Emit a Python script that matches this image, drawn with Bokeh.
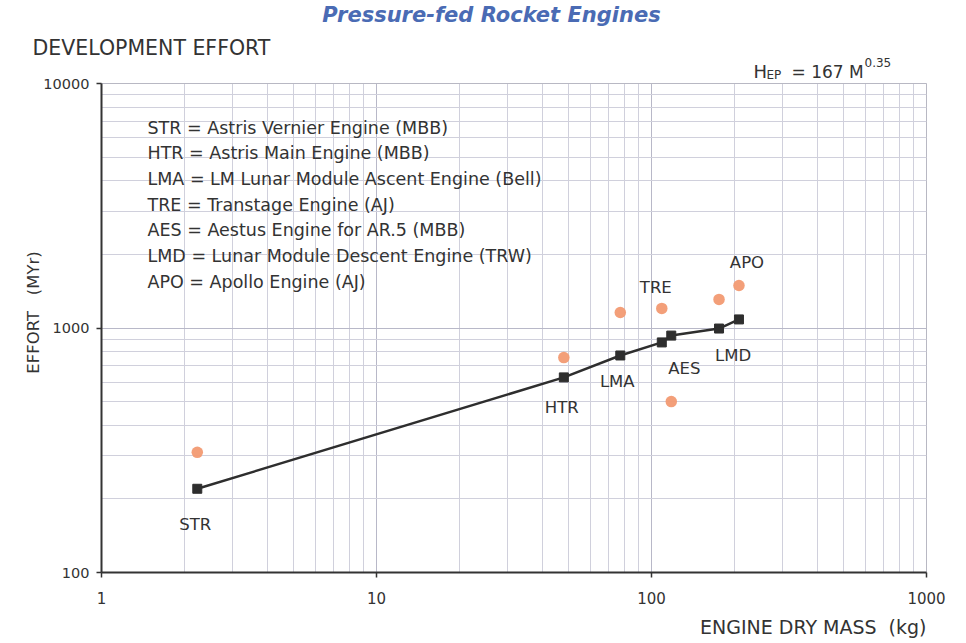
import math
from bokeh.plotting import figure
from bokeh.models import (Range1d, FixedTicker, Label, ColumnDataSource, PrintfTickFormatter,
                          BoxAnnotation, Grid)
from bokeh.core.properties import value
from bokeh.embed import file_html
from bokeh.resources import INLINE

# ---- data ----
codes = ["STR", "HTR", "LMA", "TRE", "AES", "LMD", "APO"]
mass_kg = [2.23, 48, 77, 109, 118, 176, 208]
effort_actual = [310, 757, 1157, 1203, 500, 1309, 1493]
effort_model = [220, 628, 772, 873, 931, 995, 1084]
legend_lines = [
    "STR = Astris Vernier Engine (MBB)",
    "HTR = Astris Main Engine (MBB)",
    "LMA = LM Lunar Module Ascent Engine (Bell)",
    "TRE = Transtage Engine (AJ)",
    "AES = Aestus Engine for AR.5 (MBB)",
    "LMD = Lunar Module Descent Engine (TRW)",
    "APO = Apollo Engine (AJ)",
]
x_ticks = [1, 10, 100, 1000]
y_ticks = [100, 1000, 10000]
NB = "\u00a0"

# ---- layout ----
label_dx = [-2, -2, -3, -6, 13, 14, 8]     # pixel offsets of code labels from model point
label_dy = [36, 30, 26, -55, 33, 27, -57]
W, H = 960, 640
PX_L, PX_R, PY_T, PY_B = 101, 926, 83, 572   # where the chart's log box sits on the canvas
X0, X1 = x_ticks[0], x_ticks[-1]
Y0, Y1 = y_ticks[0], y_ticks[-1]
dec_x = (PX_R - PX_L) / math.log10(X1 / X0)
dec_y = (PY_B - PY_T) / math.log10(Y1 / Y0)
x_range = Range1d(X0 * 10 ** (-PX_L / dec_x), X1 * 10 ** ((W - PX_R) / dec_x))
y_range = Range1d(Y0 * 10 ** (-(H - PY_B) / dec_y), Y1 * 10 ** (PY_T / dec_y))

FONT = "DejaVu Sans"
TXT = "#333333"

p = figure(width=W, height=H, x_axis_type="log", y_axis_type="log",
           x_range=x_range, y_range=y_range,
           output_backend="svg", toolbar_location=None,
           min_border_left=0, min_border_right=0, min_border_top=0, min_border_bottom=0)
p.outline_line_color = None

def minor_for(ticks):
    out = []
    for t in ticks[:-1]:
        out += [t * k for k in range(2, 10)]
    return out

p.xaxis.ticker = FixedTicker(ticks=x_ticks, minor_ticks=minor_for(x_ticks))
p.yaxis.ticker = FixedTicker(ticks=y_ticks, minor_ticks=minor_for(y_ticks))
p.xaxis.fixed_location = Y0
p.yaxis.fixed_location = X0
p.xaxis.bounds = (X0, X1)
p.yaxis.bounds = (Y0, Y1)
for ax in (p.xaxis, p.yaxis):
    ax.formatter = PrintfTickFormatter(format="%d")
    ax.axis_line_color = "#333333"
    ax.axis_line_width = 2
    ax.major_tick_line_color = "#333333"
    ax.major_tick_line_width = 1.5
    ax.major_tick_in = 0
    ax.major_tick_out = 5
    ax.minor_tick_line_color = None
    ax.major_label_text_font = FONT
    ax.major_label_text_color = TXT
p.xaxis.major_label_text_font_size = "15px"
p.xaxis.major_label_standoff = 14
p.yaxis.major_label_text_font_size = "14.5px"
p.yaxis.major_label_standoff = 7

has_cross = "cross_bounds" in Grid.properties()
if has_cross:
    p.xgrid.bounds = (X0, X1)
    p.xgrid.cross_bounds = (Y0, Y1)
    p.ygrid.bounds = (Y0, Y1)
    p.ygrid.cross_bounds = (X0, X1)
    for g in (p.xgrid, p.ygrid):
        g.grid_line_color = "#b8b8c8"
        g.minor_grid_line_color = "#d0d0dc"
else:
    for g in (p.xgrid, p.ygrid):
        g.grid_line_color = None
    mx = minor_for(x_ticks)
    my = minor_for(y_ticks)
    p.segment(mx, [Y0] * len(mx), mx, [Y1] * len(mx), line_color="#d0d0dc")
    p.segment([X0] * len(my), my, [X1] * len(my), my, line_color="#d0d0dc")
    p.segment(x_ticks, [Y0] * len(x_ticks), x_ticks, [Y1] * len(x_ticks), line_color="#b8b8c8")
    p.segment([X0] * len(y_ticks), y_ticks, [X1] * len(y_ticks), y_ticks, line_color="#b8b8c8")

p.add_layout(BoxAnnotation(left=X0, right=X1, bottom=Y0, top=Y1, fill_alpha=0,
                           line_color="#bbbbbb", line_width=1, level="underlay"))

p.line(mass_kg, effort_model, line_color="#2e2e2e", line_width=2.5)
p.scatter(mass_kg, effort_model, marker="square", size=9, color="#2e2e2e")
p.scatter(mass_kg, effort_actual, marker="circle", size=11.5, fill_color="#f29a72",
          line_color=None, fill_alpha=0.95)

src = ColumnDataSource(dict(x=mass_kg, y=effort_model, t=codes, dx=label_dx, dy=label_dy))
p.text("x", "y", text="t", x_offset="dx", y_offset="dy", source=src,
       text_font=value(FONT), text_font_size="16.5px", text_color=TXT,
       text_align="center", text_baseline="middle")

# canvas coordinates: page (px, py) -> screen (px, H - py)
def lab(px, py, text, size, align="left", baseline="middle", **kw):
    p.add_layout(Label(x=px, y=H - py, x_units="screen", y_units="screen",
                       text=text, text_font=FONT, text_font_size=size,
                       text_align=align, text_baseline=baseline,
                       text_color=kw.pop("color", TXT), **kw))

for i, line in enumerate(legend_lines):
    lab(147, 127 + 25.7 * i, line, "17.5px")

lab(491, 14, "Pressure-fed Rocket Engines", "21px", align="center",
    color="#4a6bb4", text_font_style="bold italic")
lab(32, 47.5, "DEVELOPMENT EFFORT", "20.5px")
lab(753, 71, "H", "18px", baseline="alphabetic")
lab(766, 74, "EP", "12px", baseline="alphabetic")
lab(791, 71, "= 167 M", "17px", baseline="alphabetic")
lab(864, 62, "0.35", "12px", baseline="alphabetic")
lab(33, 312, "EFFORT" + NB * 3 + "(MYr)", "16.5px", align="center", angle=math.pi / 2)
lab(926, 626, "ENGINE DRY MASS" + NB * 2 + "(kg)", "19px", align="right")

open("out.html", "w").write(file_html(p, INLINE))
